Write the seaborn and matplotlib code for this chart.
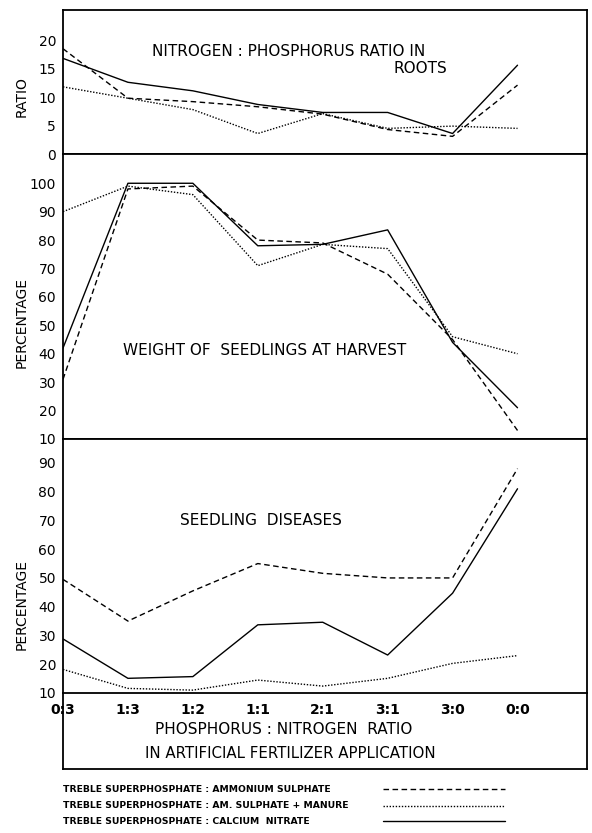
import matplotlib
matplotlib.use("Agg")
import matplotlib.pyplot as plt
import seaborn as sns
import pandas as pd
from matplotlib.lines import Line2D

# ---------------- data ----------------
ratios = ["0:3", "1:3", "1:2", "1:1", "2:1", "3:1", "3:0", "0:0"]
series_names = [
    "TREBLE SUPERPHOSPHATE : AMMONIUM SULPHATE",
    "TREBLE SUPERPHOSPHATE : AM. SULPHATE + MANURE",
    "TREBLE SUPERPHOSPHATE : CALCIUM  NITRATE",
]

ratio_amm = [18.5, 9.8, 9.2, 8.3, 7.0, 4.3, 3.1, 12.1]
ratio_man = [11.8, 9.8, 7.8, 3.6, 7.1, 4.5, 4.9, 4.5]
ratio_ca = [16.8, 12.6, 11.1, 8.7, 7.3, 7.3, 3.6, 15.6]

weight_amm = [31, 98, 99, 80, 79, 68, 45, 13]
weight_man = [90, 99, 96, 71, 78.5, 77, 46, 40]
weight_ca = [42, 100, 100, 78, 78.5, 83.6, 44, 21]

disease_amm = [49.5, 35, 45.5, 55, 51.6, 50, 50, 88]
disease_man = [18.2, 11.6, 11, 14.5, 12.4, 15.1, 20.3, 23]
disease_ca = [28.8, 15.1, 15.7, 33.7, 34.6, 23.2, 44.7, 81]

ratio_ticks = [0, 5, 10, 15, 20]
weight_ticks = [10, 20, 30, 40, 50, 60, 70, 80, 90, 100]
disease_ticks = [10, 20, 30, 40, 50, 60, 70, 80, 90]


def long_frame(a, m, c):
    rows = []
    for name, vals in zip(series_names, [a, m, c]):
        for i, v in enumerate(vals):
            rows.append({"x": i, "value": v, "series": name})
    return pd.DataFrame(rows)


df_ratio = long_frame(ratio_amm, ratio_man, ratio_ca)
df_weight = long_frame(weight_amm, weight_man, weight_ca)
df_disease = long_frame(disease_amm, disease_man, disease_ca)

# ---------------- style ----------------
sns.set_theme(style="white")
plt.rcParams["font.family"] = ["DejaVu Sans"]
plt.rcParams["axes.edgecolor"] = "black"
plt.rcParams["axes.linewidth"] = 1.3
plt.rcParams["text.color"] = "black"
plt.rcParams["axes.labelcolor"] = "black"
plt.rcParams["xtick.color"] = "black"
plt.rcParams["ytick.color"] = "black"

palette = {n: "black" for n in series_names}
dashes = {
    series_names[0]: (4, 2.5),
    series_names[1]: (1, 1.2),
    series_names[2]: "",
}

W, H = 592, 833
fig = plt.figure(figsize=(W / 100, H / 100), dpi=100)


def frac_box(x0, y0, x1, y1):
    return [x0 / W, 1 - y1 / H, (x1 - x0) / W, (y1 - y0) / H]


# bottom box first, transparent, so panel tick labels stay visible
axb = fig.add_axes(frac_box(63, 693, 587, 769))
axb.set_facecolor("none")
axb.set_zorder(0)

ax1 = fig.add_axes(frac_box(63, 10, 587, 154))
ax2 = fig.add_axes(frac_box(63, 154, 587, 439))
ax3 = fig.add_axes(frac_box(63, 439, 587, 693))
ax3.set_zorder(2)

for ax, df in [(ax1, df_ratio), (ax2, df_weight), (ax3, df_disease)]:
    sns.lineplot(data=df, x="x", y="value", hue="series", style="series",
                 palette=palette, dashes=dashes, linewidth=1.0,
                 legend=False, ax=ax)
    ax.set_xlim(0, 8.07)
    ax.set_xlabel("")
    ax.tick_params(axis="y", length=0, pad=5, labelsize=10, labelcolor="black")
    for s in ax.spines.values():
        s.set_color("black")
        s.set_linewidth(1.3)

ax1.set_ylim(0, 25.3)
ax1.set_yticks(ratio_ticks)
ax2.set_ylim(10, 110.3)
ax2.set_yticks(weight_ticks)
ax3.set_ylim(10, 98.3)
ax3.set_yticks(disease_ticks)

for ax in (ax1, ax2):
    ax.set_xticks([])

ax3.set_xticks(range(len(ratios)))
ax3.set_xticklabels(ratios, fontweight="bold", fontsize=10)
ax3.tick_params(axis="x", length=0, pad=7, labelcolor="black")

ax1.set_ylabel("RATIO", fontsize=10, color="black")
ax2.set_ylabel("PERCENTAGE", fontsize=10, color="black")
ax3.set_ylabel("PERCENTAGE", fontsize=10, color="black")
ax1.yaxis.set_label_coords(-0.066, 0.40)
ax2.yaxis.set_label_coords(-0.066, 0.41)
ax3.yaxis.set_label_coords(-0.066, 0.35)

ax1.text(0.170, 0.715, "NITROGEN : PHOSPHORUS RATIO IN", transform=ax1.transAxes,
         fontsize=11, ha="left", va="center", color="black")
ax1.text(0.733, 0.597, "ROOTS", transform=ax1.transAxes,
         fontsize=11, ha="right", va="center", color="black")
ax2.text(0.1145, 0.309, "WEIGHT OF  SEEDLINGS AT HARVEST", transform=ax2.transAxes,
         fontsize=11, ha="left", va="center", color="black")
ax3.text(0.223, 0.681, "SEEDLING  DISEASES", transform=ax3.transAxes,
         fontsize=11, ha="left", va="center", color="black")

# bottom box with the x axis title
axb.set_xticks([])
axb.set_yticks([])
axb.set_xlim(0, 1)
axb.set_ylim(0, 1)
for s in axb.spines.values():
    s.set_color("black")
    s.set_linewidth(1.3)
axb.spines["top"].set_visible(False)
axb.text(0.176, 0.52, "PHOSPHORUS : NITROGEN  RATIO", fontsize=11,
         ha="left", va="center", transform=axb.transAxes, color="black")
axb.text(0.156, 0.20, "IN ARTIFICIAL FERTILIZER APPLICATION", fontsize=10.8,
         ha="left", va="center", transform=axb.transAxes, color="black")

# legend below the frame: text at left, line sample at right
leg_y = [789, 806, 821]
for name, yy in zip(series_names, leg_y):
    fy = 1 - yy / H
    fig.text(63 / W, fy, name, fontsize=6.7, fontweight="bold",
             ha="left", va="center", color="black")
    ls = (0, dashes[name]) if dashes[name] else "-"
    fig.add_artist(Line2D([383 / W, 505 / W], [fy, fy], transform=fig.transFigure,
                          color="black", linewidth=1.0, linestyle=ls))

fig.savefig("out.png", dpi=100, facecolor="white")
